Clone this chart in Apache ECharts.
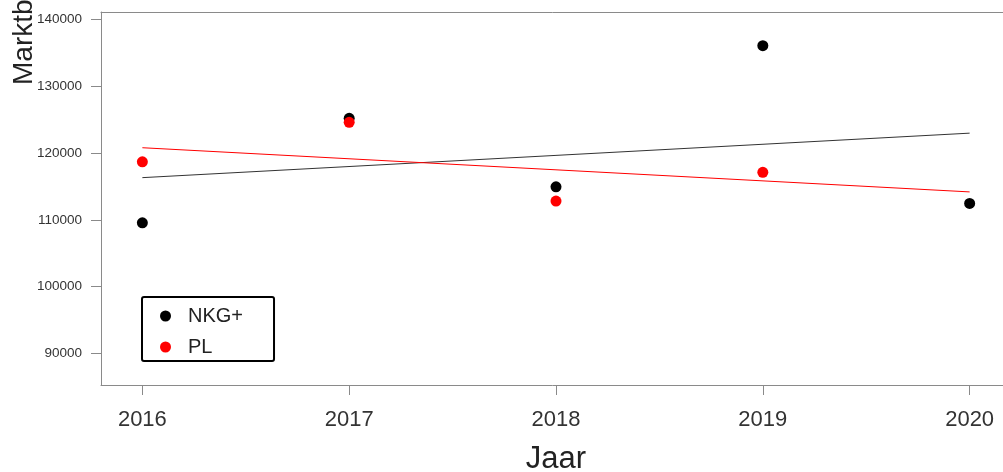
<!DOCTYPE html>
<html>
<head>
<meta charset="utf-8">
<script src="https://cdn.jsdelivr.net/npm/echarts@6/dist/echarts.min.js"></script>
<style>
  html, body { margin: 0; padding: 0; background: #fff; }
  #chart { width: 1003px; height: 472px; }
</style>
</head>
<body>
<div id="chart"></div>
<script>
// Years on the horizontal axis
const years = [2016, 2017, 2018, 2019, 2020];
// Marktbereik per year
const nkgValues = [109550, 125160, 114930, 136010, 112450];
const plValues = [118670, 124560, 112800, 117090, null];
// Trend line end values (at 2016 and 2020)
const trendYears = [2016, 2020];
const nkgTrend = [116300, 122950];
const plTrend = [120770, 114170];
// Axis tick labels
const yTicks = [90000, 100000, 110000, 120000, 130000, 140000];
const xTicks = [2016, 2017, 2018, 2019, 2020];

const pairs = (xs, ys) => xs.map((x, i) => [x, ys[i]]).filter(p => p[1] != null);

const FONT = 'Liberation Sans, Arial, Helvetica, sans-serif';
const AXIS_COLOR = '#8a8a8a';
const LABEL_COLOR = '#333';
const X_MIN = 2015.8, X_MAX = 2020.2;

const chart = echarts.init(document.getElementById('chart'), null, { renderer: 'canvas' });

chart.setOption({
  animation: false,
  backgroundColor: '#ffffff',
  textStyle: { fontFamily: FONT },
  grid: {
    left: 101, top: 12, right: -8, bottom: 87,
    outerBoundsMode: 'none',
    containLabel: false,
    show: false
  },
  xAxis: [{
    type: 'value',
    min: X_MIN, max: X_MAX,
    name: 'Jaar',
    nameLocation: 'middle',
    nameGap: 59,
    nameTextStyle: { fontSize: 31, color: '#222', fontFamily: FONT },
    splitLine: { show: false },
    axisLine: { show: true, lineStyle: { color: AXIS_COLOR, width: 1 } },
    axisTick: { show: true, length: 10, lineStyle: { color: AXIS_COLOR }, customValues: xTicks },
    axisLabel: {
      customValues: xTicks,
      margin: 24,
      fontSize: 22,
      color: LABEL_COLOR,
      fontFamily: FONT,
      formatter: v => String(v)
    }
  }, {
    // top edge of the plot box
    type: 'value',
    position: 'top',
    min: X_MIN, max: X_MAX,
    splitLine: { show: false },
    axisLine: { show: true, lineStyle: { color: AXIS_COLOR, width: 1 } },
    axisTick: { show: false },
    axisLabel: { show: false }
  }],
  yAxis: {
    type: 'value',
    min: 85320, max: 141050,
    splitLine: { show: false },
    axisLine: { show: true, lineStyle: { color: AXIS_COLOR, width: 1 } },
    axisTick: { show: true, length: 10, lineStyle: { color: AXIS_COLOR }, customValues: yTicks },
    axisLabel: {
      customValues: yTicks,
      margin: 19,
      fontSize: 13.5,
      color: LABEL_COLOR,
      fontFamily: FONT,
      formatter: v => String(v)
    }
  },
  legend: {
    orient: 'vertical',
    left: 142, top: 297,
    data: ['NKG+', 'PL'],
    icon: 'circle',
    itemWidth: 11, itemHeight: 11,
    itemGap: 11,
    padding: [9, 31, 4, 18],
    borderColor: '#000', borderWidth: 2, borderRadius: 2,
    backgroundColor: '#fff',
    textStyle: { fontSize: 20, color: '#222', fontFamily: FONT, padding: [0, 0, 0, 12] }
  },
  graphic: [{
    type: 'text',
    x: 38, y: 85,
    rotation: Math.PI / 2,
    style: {
      text: 'Marktbereik',
      fontSize: 28,
      fontFamily: FONT,
      fill: '#222',
      textAlign: 'left',
      textVerticalAlign: 'bottom'
    }
  }],
  series: [
    {
      type: 'line', name: 'NKG+ trend', silent: true, symbol: 'none',
      data: pairs(trendYears, nkgTrend),
      lineStyle: { color: '#333', width: 1 }, z: 2
    },
    {
      type: 'line', name: 'PL trend', silent: true, symbol: 'none',
      data: pairs(trendYears, plTrend),
      lineStyle: { color: '#ff0000', width: 1 }, z: 2
    },
    {
      type: 'scatter', name: 'NKG+',
      data: pairs(years, nkgValues),
      symbolSize: 11,
      itemStyle: { color: '#000', opacity: 1 }, z: 3
    },
    {
      type: 'scatter', name: 'PL',
      data: pairs(years, plValues),
      symbolSize: 11,
      itemStyle: { color: '#ff0000', opacity: 1 }, z: 4
    }
  ]
});
</script>
</body>
</html>
